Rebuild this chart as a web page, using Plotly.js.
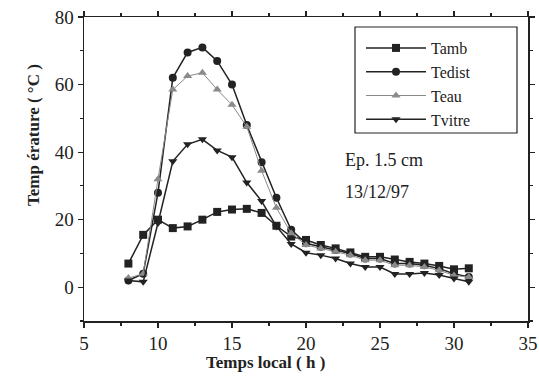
<!DOCTYPE html>
<html>
<head>
<meta charset="utf-8">
<script src="https://cdn.plot.ly/plotly-3.0.1.min.js"></script>
<style>html,body{margin:0;padding:0;background:#fff;}#chart{width:539px;height:382px;}</style>
</head>
<body>
<div id="chart"></div>
<script>
const hours = [8,9,10,11,12,13,14,15,16,17,18,19,20,21,22,23,24,25,26,27,28,29,30,31];
const tamb   = [7,15.5,20,17.5,18,20,22.3,23,23.2,22,18.2,15,14,12.5,11.5,10.3,9,9,8.2,7.5,7,6.3,5.3,5.6];
const tedist = [2,4,28,62,69.5,71,67,60,48,37,26.5,17,13,12,11,10,8.5,8.5,7,7,6.5,5.5,4,3];
const teau   = [2.7,4,32,58.5,62.5,63.5,58.5,54,47.5,34.5,23.5,16,12.5,11.5,10.5,9.5,8,8,6.5,6.5,6,5,3.5,3];
const tvitre = [2,1.6,19,37.3,42.3,43.8,40.5,38.5,31,25.5,18,12.8,10.2,9.5,8.5,7,6,6,3.9,3.9,4.2,3.6,2.6,1.6];
const seriesNames = ["Tamb","Tedist","Teau","Tvitre"];

const serif = "'Liberation Serif', 'DejaVu Serif', serif";
const mk = (y, name, sym, col, w) => ({
  x: hours, y: y, name: name, type: "scatter", mode: "lines+markers",
  line: {color: col, width: w},
  marker: {symbol: sym, size: 8, color: col}
});
const data = [
  mk(tamb, seriesNames[0], "square", "#222", 1.5),
  mk(tedist, seriesNames[1], "circle", "#222", 1.5),
  mk(teau, seriesNames[2], "triangle-up", "#8a8a8a", 1),
  mk(tvitre, seriesNames[3], "triangle-down", "#222", 1.5)
];
const axBase = {
  showgrid: false, zeroline: false, showline: true, linecolor: "#222", linewidth: 1.5,
  mirror: "allticks", ticks: "outside", ticklen: 5, tickwidth: 1.2, tickcolor: "#222",
  tickfont: {family: serif, size: 19, color: "#222"}
};
const px = v => (v - 84) / 444;
const py = v => (321 - v) / 304;
const layout = {
  width: 539, height: 382,
  margin: {l: 84, r: 11, t: 17, b: 61},
  paper_bgcolor: "#fff", plot_bgcolor: "#fff",
  showlegend: true,
  legend: {x: px(361), y: py(31), xanchor: "left", yanchor: "top",
    borderwidth: 0, bgcolor: "rgba(255,255,255,0)", itemwidth: 60,
    font: {family: serif, size: 16, color: "#222"}, tracegroupgap: 0},
  shapes: [
    {type: "rect", xref: "paper", yref: "paper", x0: px(355), x1: px(517), y0: py(133), y1: py(27),
     line: {color: "#222", width: 1.2}, fillcolor: "rgba(0,0,0,0)", layer: "above"}
  ],
  xaxis: Object.assign({}, axBase, {range: [5, 35], dtick: 5, tick0: 5,
    minor: {ticks: "outside", dtick: 2.5, ticklen: 3, tickcolor: "#222"}}),
  yaxis: Object.assign({}, axBase, {range: [-10, 80], dtick: 20, tick0: 0,
    minor: {ticks: "outside", dtick: 10, ticklen: 3, tickcolor: "#222"}}),
  annotations: [
    {text: "<b>Temps local ( h )</b>", xref: "paper", yref: "paper", x: px(265), y: py(362),
     xanchor: "center", yanchor: "middle", showarrow: false, font: {family: serif, size: 17, color: "#222"}},
    {text: "<b>Temp érature ( °C )</b>", xref: "paper", yref: "paper", x: px(33), y: py(135),
     xanchor: "center", yanchor: "middle", textangle: -90, showarrow: false, font: {family: serif, size: 17, color: "#222"}},
    {text: "Ep. 1.5 cm", xref: "paper", yref: "paper", x: px(343), y: py(160),
     xanchor: "left", yanchor: "middle", showarrow: false, font: {family: serif, size: 18, color: "#222"}},
    {text: "13/12/97", xref: "paper", yref: "paper", x: px(343), y: py(192),
     xanchor: "left", yanchor: "middle", showarrow: false, font: {family: serif, size: 18, color: "#222"}}
  ]
};
Plotly.newPlot("chart", data, layout, {displayModeBar: false, staticPlot: true});
</script>
</body>
</html>
